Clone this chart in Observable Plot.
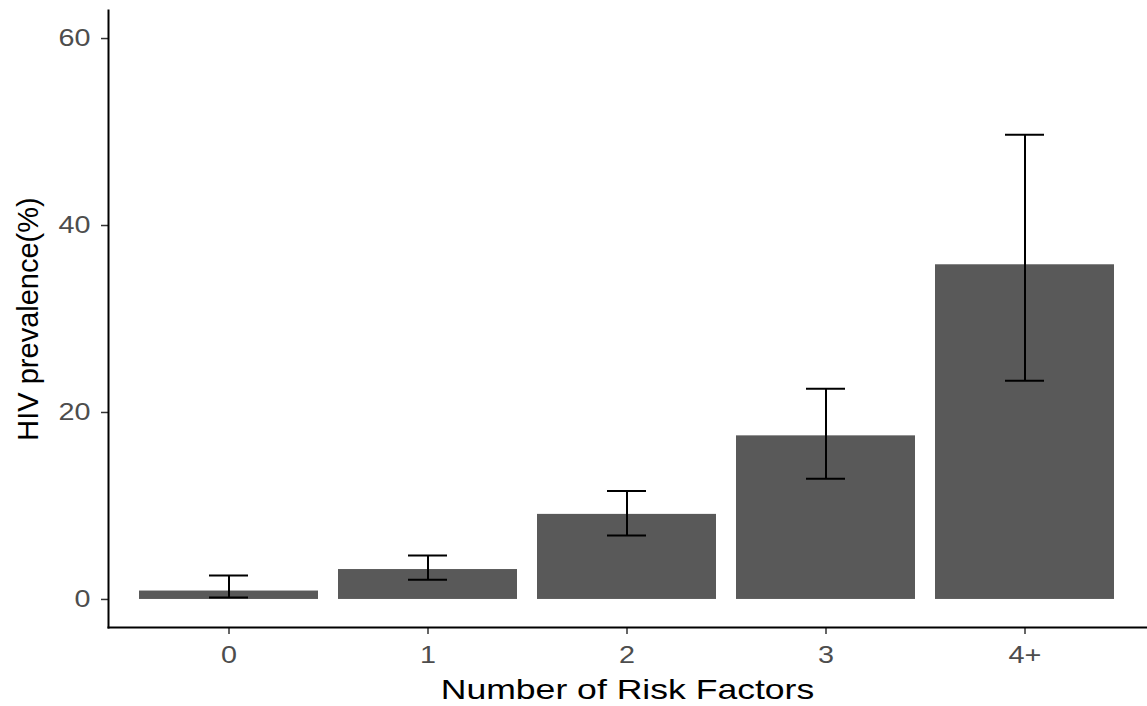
<!DOCTYPE html>
<html>
<head>
<meta charset="utf-8">
<script src="https://cdn.jsdelivr.net/npm/d3@7"></script>
<script src="https://cdn.jsdelivr.net/npm/@observablehq/plot@0.6"></script>
<style>
  html, body { margin: 0; padding: 0; background: #fff; }
  #chart svg { display: block; font-family: "Liberation Sans", Arial, sans-serif; }
</style>
</head>
<body>
<div id="chart"></div>
<script>
const categories = ["0", "1", "2", "3", "4+"];
const prevalence = [0.9, 3.2, 9.1, 17.5, 35.8];
const lower = [0.2, 2.1, 6.85, 12.9, 23.4];
const upper = [2.55, 4.7, 11.6, 22.55, 49.7];
const yTicks = [0, 20, 40, 60];

const data = categories.map((c, i) => ({cat: c, value: prevalence[i], lo: lower[i], hi: upper[i]}));

const chart = Plot.plot({
  width: 1147,
  height: 706,
  marginLeft: 108,
  marginRight: 1,
  marginTop: 10,
  marginBottom: 79,
  style: {fontFamily: "Liberation Sans, Arial, sans-serif", background: "#fff"},
  x: {domain: categories, paddingInner: 0.1, paddingOuter: 0.145, label: null},
  y: {domain: [-3, 63], label: null},
  marks: [
    Plot.barY(data, {x: "cat", y: "value", fill: "#595959"}),
    Plot.ruleX(data, {x: "cat", y1: "lo", y2: "hi", stroke: "#000", strokeWidth: 2}),
    Plot.tickY(data, {x: "cat", y: "lo", stroke: "#000", strokeWidth: 2, inset: 70}),
    Plot.tickY(data, {x: "cat", y: "hi", stroke: "#000", strokeWidth: 2, inset: 70}),
    Plot.axisX({tickSize: 7, tickPadding: 11, fontSize: 24, color: "#4D4D4D", stroke: "#333", strokeWidth: 1.5,
      label: "Number of Risk Factors", labelAnchor: "center", labelArrow: "none", labelOffset: 71}),
    Plot.axisY({ticks: yTicks, tickSize: 7, tickPadding: 11, fontSize: 24, color: "#4D4D4D", stroke: "#333", strokeWidth: 1.5,
      label: "HIV prevalence(%)", labelAnchor: "center", labelArrow: "none", labelOffset: 91}),
    Plot.frame({anchor: "left", stroke: "#000", strokeWidth: 2}),
    Plot.frame({anchor: "bottom", stroke: "#000", strokeWidth: 2})
  ]
});
document.getElementById("chart").appendChild(chart);

// Title styling: black and larger; strip any arrow glyph that may be appended
chart.querySelectorAll("g[aria-label='x-axis label'] text, g[aria-label='y-axis label'] text").forEach(t => {
  t.setAttribute("fill", "#000");
  t.setAttribute("font-size", "29");
  t.style.fontSize = "29px";
  t.textContent = t.textContent.replace(/\s*[→↑←↓]\s*/g, "");
});
chart.querySelectorAll("g[aria-label='x-axis label'] text").forEach(t => {
  t.setAttribute("font-size", "28");
  t.style.fontSize = "28px";
});
function widen(sel, factor) {
  chart.querySelectorAll(sel).forEach(t => {
    const len = t.getComputedTextLength();
    t.setAttribute("textLength", (len * factor).toFixed(1));
    t.setAttribute("lengthAdjust", "spacingAndGlyphs");
  });
}
widen("g[aria-label='x-axis tick label'] text", 1.2);
widen("g[aria-label='y-axis tick label'] text", 1.2);
widen("g[aria-label='x-axis label'] text", 1.27);
</script>
</body>
</html>
